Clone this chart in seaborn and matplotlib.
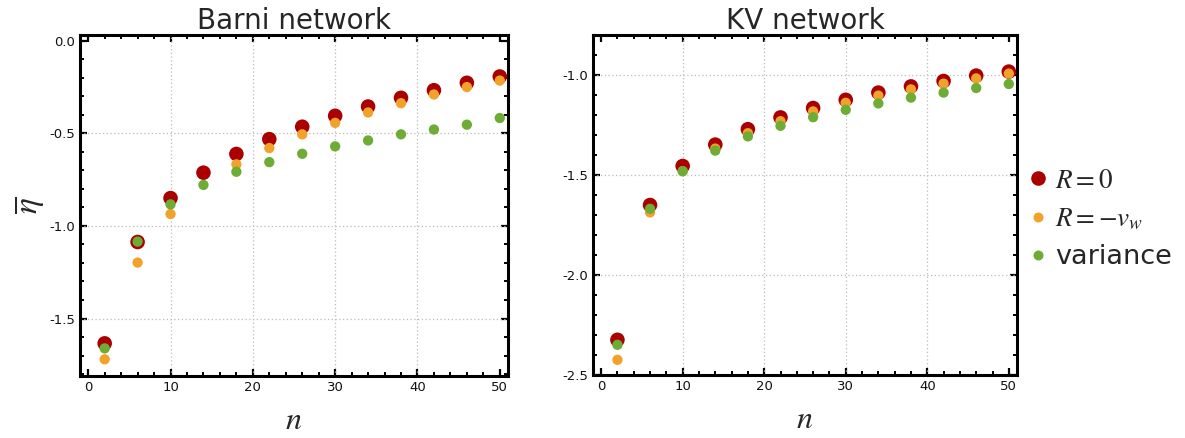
import numpy as np
import pandas as pd
import matplotlib
matplotlib.use("Agg")
import matplotlib.pyplot as plt
from matplotlib.lines import Line2D
from matplotlib.ticker import MultipleLocator, FormatStrFormatter
import seaborn as sns

# ---- data ----
n_vals = [2, 6, 10, 14, 18, 22, 26, 30, 34, 38, 42, 46, 50]

barni_r0 = [-1.634, -1.087, -0.850, -0.713, -0.612, -0.532, -0.465, -0.406, -0.356, -0.309, -0.268, -0.228, -0.194]
barni_rv = [-1.720, -1.198, -0.936, np.nan, -0.668, -0.580, -0.506, -0.444, -0.388, -0.338, -0.291, -0.251, -0.216]
barni_var = [-1.661, -1.085, -0.884, -0.779, -0.708, -0.656, -0.611, -0.571, -0.539, -0.506, -0.480, -0.454, -0.418]

kv_r0 = [-2.324, -1.650, -1.455, -1.348, -1.271, -1.212, -1.165, -1.124, -1.088, -1.057, -1.030, -1.003, -0.983]
kv_rv = [-2.424, -1.687, -1.481, -1.368, -1.291, -1.231, -1.182, -1.139, -1.103, -1.072, -1.043, -1.017, -0.993]
kv_var = [-2.349, -1.669, -1.481, -1.378, -1.307, -1.254, -1.211, -1.174, -1.142, -1.113, -1.088, -1.065, -1.045]

series_names = ["R=0", "R=-v_w", "variance"]
legend_labels = [r"$\mathit{R}{=}\mathit{0}$", r"$\mathit{R}{=}{-}\mathit{v}_{\mathit{w}}$", "variance"]
titles = ["Barni network", "KV network"]

colors = {"R=0": "#AA0000", "R=-v_w": "#F2A22A", "variance": "#6DAD35"}
sizes = {"R=0": 110, "R=-v_w": 55, "variance": 55}


def make_df(r0, rv, var):
    frames = []
    for name, vals in zip(series_names, [r0, rv, var]):
        frames.append(pd.DataFrame({"n": n_vals, "eta": vals, "series": name}))
    return pd.concat(frames, ignore_index=True).dropna()


sns.set_theme(style="white")
plt.rcParams["font.family"] = ["DejaVu Sans"]
plt.rcParams["mathtext.fontset"] = "stix"

fig = plt.figure(figsize=(11.85, 4.38), dpi=100)
ax1 = fig.add_axes([0.0675, 0.1416, 0.3612, 0.7785])
ax2 = fig.add_axes([0.5004, 0.1438, 0.3578, 0.7763])

panels = [
    (ax1, make_df(barni_r0, barni_rv, barni_var), (-1.81, 0.03), titles[0]),
    (ax2, make_df(kv_r0, kv_rv, kv_var), (-2.5, -0.8), titles[1]),
]

for ax, df, ylim, title in panels:
    sns.scatterplot(data=df, x="n", y="eta", hue="series", size="series",
                    palette=colors, sizes=sizes, linewidth=0, ax=ax,
                    legend=False, zorder=3)
    ax.set_xlim(-1, 51)
    ax.set_ylim(*ylim)
    ax.xaxis.set_major_locator(MultipleLocator(10))
    ax.xaxis.set_minor_locator(MultipleLocator(2))
    ax.yaxis.set_major_locator(MultipleLocator(0.5))
    ax.yaxis.set_minor_locator(MultipleLocator(0.1))
    ax.yaxis.set_major_formatter(FormatStrFormatter("%.1f"))
    ax.tick_params(which="both", direction="in", top=True, right=True,
                   bottom=True, left=True, colors="black", labelsize=9.5,
                   labelcolor="#111111")
    ax.tick_params(which="major", length=5, width=1.6)
    ax.tick_params(which="minor", length=3, width=1.4)
    # dotted grid at interior major ticks only
    ax.grid(False)
    lo, hi = ax.get_xlim()
    for xv in ax.get_xticks():
        if lo + 1.5 < xv < hi - 1.5:
            ax.axvline(xv, linestyle=(0, (1, 2)), color="#BBBBBB", linewidth=0.9, zorder=1)
    lo, hi = ax.get_ylim()
    for yv in ax.get_yticks():
        if lo + 0.04 < yv < hi - 0.04:
            ax.axhline(yv, linestyle=(0, (1, 2)), color="#BBBBBB", linewidth=0.9, zorder=1)
    for sp in ax.spines.values():
        sp.set_visible(True)
        sp.set_color("black")
        sp.set_linewidth(2.2)
    ax.set_title(title, fontsize=20, pad=4)
    ax.set_xlabel(r"$n$", fontsize=23, labelpad=8)
    ax.set_ylabel("")

ax1.set_ylabel(r"$\overline{\eta}$", fontsize=24, labelpad=2)

handles = [Line2D([0], [0], marker="o", linestyle="", markerfacecolor=colors[s],
                  markeredgewidth=0, markersize=(10.5 if s == "R=0" else 7.2))
           for s in series_names]
fig.legend(handles, legend_labels, loc="center left",
           bbox_to_anchor=(1012 / 1185, 1 - 219 / 438), frameon=False,
           fontsize=19.5, handletextpad=0.1, labelspacing=0.45, handlelength=1.1,
           borderaxespad=0)

fig.savefig("out.png", dpi=100)
